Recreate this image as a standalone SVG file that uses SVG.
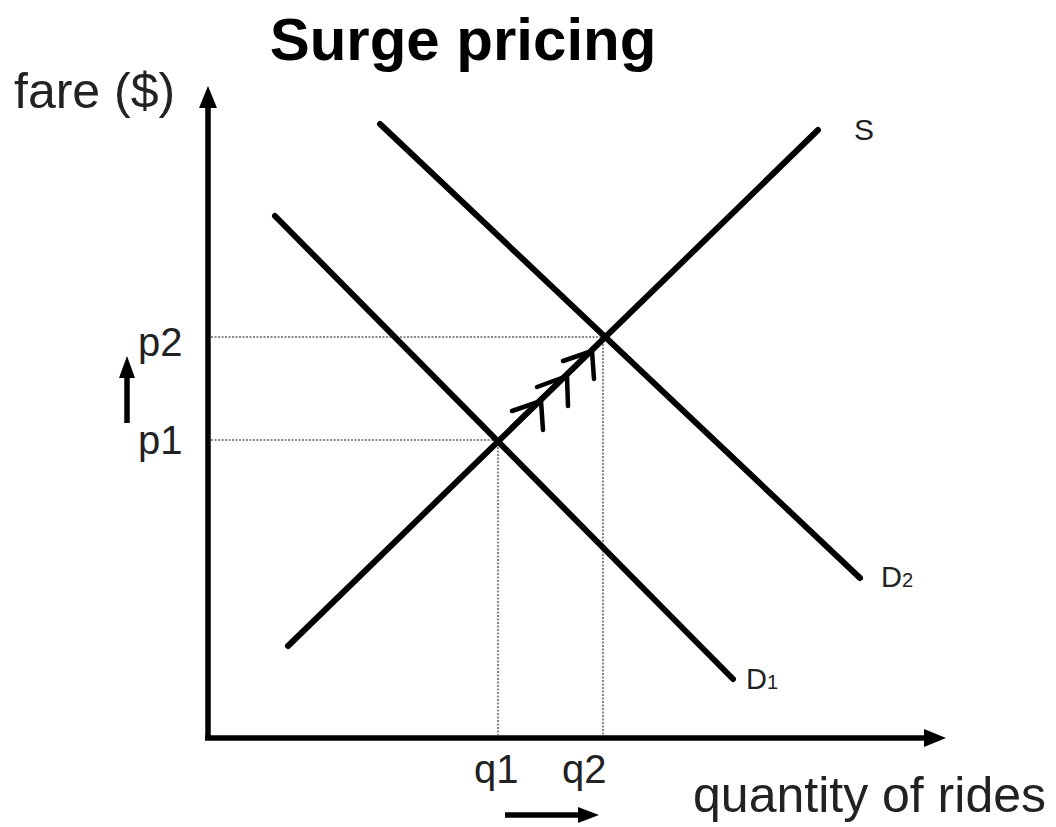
<svg xmlns="http://www.w3.org/2000/svg" width="1056" height="827" viewBox="0 0 1056 827">
<style>
.ax{stroke:#000;stroke-width:5.5;fill:none}
.cv{stroke:#000;stroke-width:6;fill:none;stroke-linecap:round}
.dot{stroke:#8a8a8a;stroke-width:2.2;stroke-dasharray:2 1.5;fill:none}
.mk{stroke:#000;stroke-width:4.5;fill:none;stroke-linecap:round;stroke-linejoin:round}
.t{font-family:"Liberation Sans",Arial,sans-serif;fill:#222}
.ttl{font-family:"Liberation Sans",Arial,sans-serif;fill:#000;font-weight:bold}
</style>
<rect width="1056" height="827" fill="#fff"/>
<g id="title"><text class="ttl" x="463" y="60" font-size="60" text-anchor="middle">Surge pricing</text></g>
<g id="axes">
<line class="ax" x1="208" y1="738" x2="208" y2="104"/>
<path d="M208,86 L199,108 L217,108 z" fill="#000"/>
<line class="ax" x1="205" y1="738" x2="928" y2="738"/>
<path d="M946,738 L924,729 L924,747 z" fill="#000"/>
<text class="t" x="14" y="108" font-size="50">fare ($)</text>
<text class="t" x="1046" y="812" font-size="50" text-anchor="end">quantity of rides</text>
</g>
<g id="guides">
<line class="dot" x1="211" y1="337" x2="603" y2="337"/>
<line class="dot" x1="211" y1="440" x2="498" y2="440"/>
<line class="dot" x1="498" y1="440" x2="498" y2="735"/>
<line class="dot" x1="603" y1="337" x2="603" y2="735"/>
</g>
<g id="connectors">
<line class="cv" x1="288" y1="646" x2="818" y2="130"/>
<line class="cv" x1="275" y1="216" x2="733" y2="679"/>
<line class="cv" x1="380" y1="124" x2="860" y2="578"/>
<path class="mk" d="M512,411 L541,401 L543,430"/>
<path class="mk" d="M537,387 L567,376 L568,406"/>
<path class="mk" d="M563,361 L592,351 L594,379"/>
<line x1="127" y1="423" x2="127" y2="375" stroke="#000" stroke-width="5.5"/>
<path d="M127,356 L119,378 L135,378 z" fill="#000"/>
<line x1="505" y1="815" x2="580" y2="815" stroke="#000" stroke-width="5.5"/>
<path d="M599,815 L578,807 L578,823 z" fill="#000"/>
</g>
<g id="labels">
<text class="t" x="138" y="356" font-size="40">p2</text>
<text class="t" x="138" y="454" font-size="40">p1</text>
<text class="t" x="474" y="783" font-size="40">q1</text>
<text class="t" x="562" y="783" font-size="40">q2</text>
<text class="t" x="854" y="140" font-size="30">S</text>
<text class="t" x="881" y="587" font-size="29">D<tspan font-size="20">2</tspan></text>
<text class="t" x="746" y="689" font-size="29">D<tspan font-size="20">1</tspan></text>
</g>
</svg>
